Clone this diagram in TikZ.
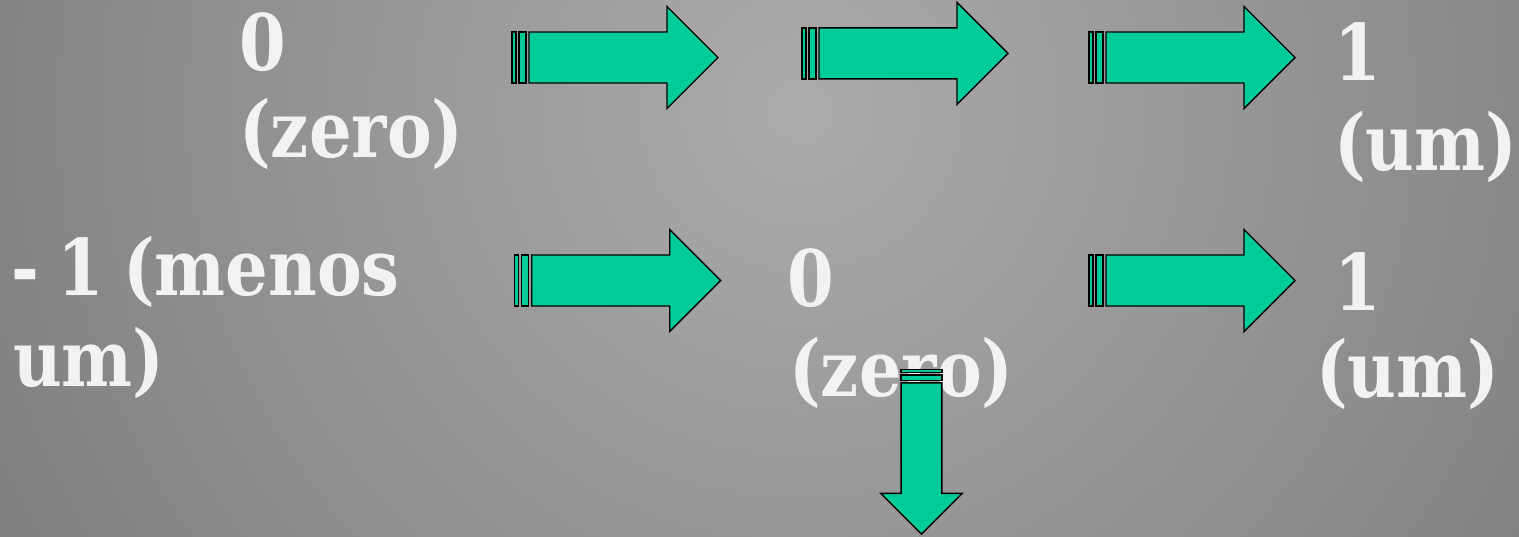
\documentclass[tikz,border=0pt]{standalone}
\usepackage{fontspec}
\setmainfont{DejaVu Serif}[FakeStretch=0.86, WordSpace=0.8]
\definecolor{bgin}{HTML}{ABABAB}
\definecolor{bgout}{HTML}{525252}
\definecolor{txt}{HTML}{F2F2F2}
\definecolor{arrowgreen}{HTML}{00CC99}
\pgfdeclareradialshading{bgshade}{\pgfpoint{0bp}{0bp}}{color(0bp)=(bgin); color(50bp)=(bgout)}
\tikzset{
  arrowfill/.style={fill=arrowgreen, draw=black, line width=1.4pt, line join=miter},
  lbl/.style={anchor=base west, inner sep=0pt, text=txt, font=\fontsize{78}{78}\selectfont\bfseries},
  stripedarrow/.pic={
    \path[arrowfill] (0,-25.5) rectangle (4,25.5);
    \path[arrowfill] (7,-25.5) rectangle (14,25.5);
    \path[arrowfill] (17,-25.5) -- (155,-25.5) -- (155,-51) -- (206,0) -- (155,51) -- (155,25.5) -- (17,25.5) -- cycle;
  }
}
\begin{document}
\begin{tikzpicture}[x=1pt,y=-1pt]
\useasboundingbox (0,0) rectangle (1519,536);
\begin{scope}
  \clip (0,0) rectangle (1519,536);
  \shade[shading=bgshade] (800,110) circle (930);
\end{scope}
% labels
\node[lbl] (a1) at (239,70) {0};
\node[lbl] (a2) at (239,157) {(zero)};
\node[lbl] (b1) at (1334,80) {1};
\node[lbl] (b2) at (1334,170) {(um)};
\node[lbl] (c1) at (11,295) {- 1 (menos};
\node[lbl] (c2) at (13,386) {um)};
\node[lbl] (d1) at (787,306) {0};
\node[lbl] (d2) at (789,396) {(zero)};
\node[lbl] (e1) at (1334,310) {1};
\node[lbl] (e2) at (1316,397) {(um)};
% arrows
\pic at (512,57.5) {stripedarrow};
\pic at (802,53.3) {stripedarrow};
\pic at (1089,57.5) {stripedarrow};
\pic at (514.7,280.5) {stripedarrow};
\pic at (1089,280.5) {stripedarrow};
\pic[rotate=-90, scale=0.8] at (921.5,369.3) {stripedarrow};
\end{tikzpicture}
\end{document}
